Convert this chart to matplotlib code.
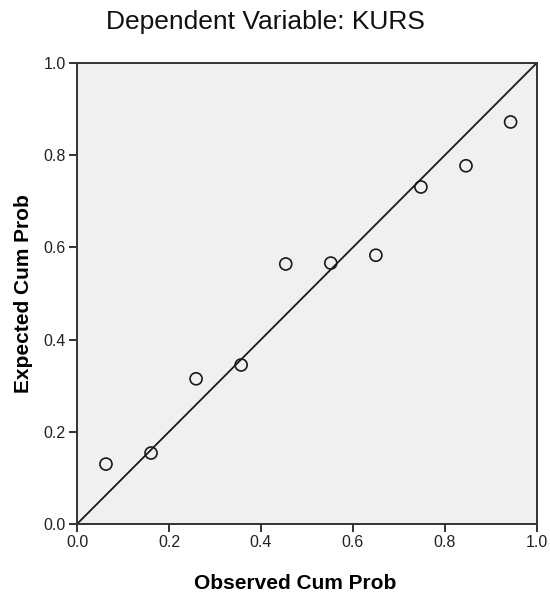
import matplotlib
matplotlib.use('Agg')
import matplotlib.pyplot as plt

plt.rcParams['font.family'] = ['Liberation Sans', 'DejaVu Sans']

# observed vs expected cumulative probabilities
observed = [0.063, 0.161, 0.259, 0.357, 0.454, 0.552, 0.650, 0.748, 0.846, 0.943]
expected = [0.130, 0.154, 0.315, 0.345, 0.564, 0.566, 0.583, 0.731, 0.777, 0.872]
ticks = [0.0, 0.2, 0.4, 0.6, 0.8, 1.0]

fig = plt.figure(figsize=(5.5, 5.98), dpi=100)
ax = fig.add_axes([0.14, 0.1237, 0.836, 0.771])
ax.set_facecolor('#f0f0f0')

ax.plot([0, 1], [0, 1], color='#1a1a1a', lw=1.3, zorder=2)
ax.scatter(observed, expected, s=75, facecolors='none', edgecolors='#1a1a1a', linewidths=1.2, zorder=3)

ax.set_xlim(0, 1)
ax.set_ylim(0, 1)
ax.set_xticks(ticks)
ax.set_yticks(ticks)
ax.set_xticklabels(['%.1f' % t for t in ticks])
ax.set_yticklabels(['%.1f' % t for t in ticks])
ax.tick_params(direction='out', length=6, width=1.3, labelsize=11.5, colors='#222222', pad=2)
for s in ax.spines.values():
    s.set_linewidth(1.4)
    s.set_color('#333333')

ax.set_xlabel('Observed Cum Prob', fontsize=15, fontweight='bold', va='center')
ax.set_ylabel('Expected Cum Prob', fontsize=15, fontweight='bold', va='center')
ax.xaxis.set_label_coords((295 - 77) / 460, -(583 - 524) / 461)
ax.yaxis.set_label_coords(-(77 - 23) / 460, 0.5)
fig.text(265 / 550, 1 - 22 / 598, 'Dependent Variable: KURS', ha='center', va='center',
         fontsize=19, color='#111111')

fig.savefig('out.png', dpi=100, facecolor='white')
